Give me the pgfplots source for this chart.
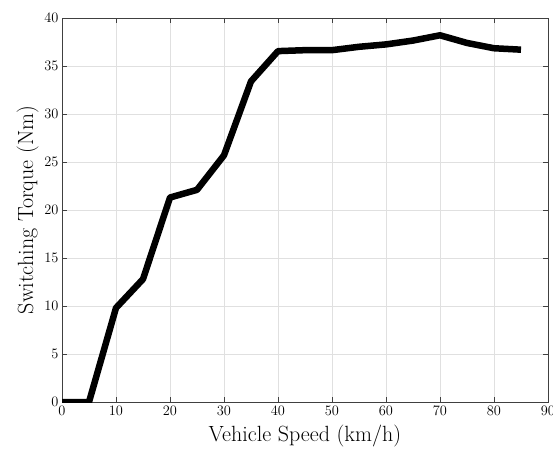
\documentclass[border=0pt]{standalone}
\usepackage{pgfplots}
\pgfplotsset{compat=1.18}
\usetikzlibrary{calc}
\begin{document}
\begin{tikzpicture}
\begin{axis}[
  name=ax,
  scale only axis,
  width=486pt, height=384pt,
  xmin=0, xmax=90, ymin=0, ymax=40,
  xtick={0,10,...,90}, ytick={0,5,...,40},
  grid=major,
  grid style={draw=black!12, line width=0.6pt},
  axis line style={draw=black!75, line width=0.8pt},
  tick style={draw=black!75, line width=0.8pt},
  tick align=inside,
  major tick length=5pt,
  ticklabel style={font=\fontsize{14}{16}\selectfont},
  xticklabel style={yshift=-1pt},
  yticklabel style={xshift=0pt},
  xlabel={Vehicle Speed (km/h)},
  ylabel={Switching Torque (Nm)},
  label style={font=\fontsize{22}{25}\selectfont},
  xlabel style={yshift=-2pt},
  ylabel style={yshift=-1pt},
]
\addplot[black, line width=6.5pt, line join=round] coordinates {
(0,0) (5,0) (10,9.8) (15,12.8) (20,21.3) (25,22.1) (30,25.7) (35,33.4)
(40,36.55) (45,36.65) (50,36.65) (55,37.0) (60,37.25) (65,37.65) (70,38.2)
(75,37.4) (80,36.85) (85,36.7)
};
\end{axis}
\pgfresetboundingbox
\path ($(ax.south west)+(-62pt,-48pt)$) rectangle ($(ax.north east)+(5pt,18pt)$);
\end{tikzpicture}
\end{document}
